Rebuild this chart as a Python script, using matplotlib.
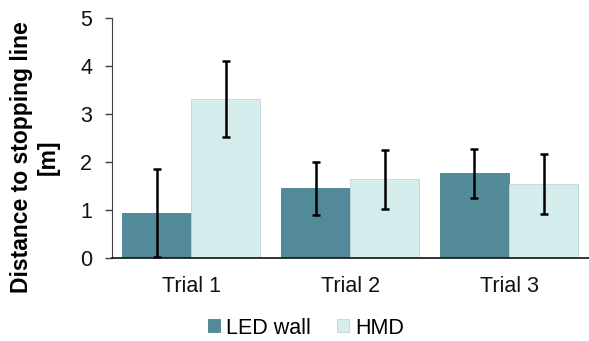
import matplotlib
matplotlib.use('Agg')
import matplotlib.pyplot as plt
import numpy as np

plt.rcParams['font.family'] = ['Liberation Sans', 'DejaVu Sans']

trials = ['Trial 1', 'Trial 2', 'Trial 3']
led_mean = [0.94, 1.46, 1.77]
led_err = [0.92, 0.55, 0.51]
hmd_mean = [3.31, 1.64, 1.54]
hmd_err = [0.79, 0.61, 0.62]
y_ticks = [0, 1, 2, 3, 4, 5]

LED_COL = '#528A9A'
HMD_COL = '#D6EDED'
FS = 15.5

fig = plt.figure(figsize=(5.89, 3.41), dpi=100)
ax = fig.add_axes([111.7 / 589, (341 - 258.3) / 341, (588.5 - 111.7) / 589, 240.3 / 341])

x = np.arange(len(trials))
w = 0.435
err_kw = dict(ecolor='black', elinewidth=1.8, capsize=2.6, capthick=1.8)
ax.bar(x - w / 2, led_mean, w, color=LED_COL, edgecolor='#4A7F8E', linewidth=0.6,
       yerr=led_err, error_kw=err_kw, label='LED wall')
ax.bar(x + w / 2, hmd_mean, w, color=HMD_COL, edgecolor='#BFD6D6', linewidth=0.6,
       yerr=hmd_err, error_kw=err_kw, label='HMD')

ax.set_xlim(-0.5, 2.5)
ax.set_ylim(0, 5)
ax.set_yticks(y_ticks)
ax.set_xticks(x)
ax.set_xticklabels(trials)
ax.tick_params(axis='x', length=0, pad=13, labelsize=FS, labelcolor='#111111')
ax.tick_params(axis='y', length=5, width=1, pad=9, labelsize=FS, colors='#404040',
               labelcolor='#111111', direction='out')
for s in ['top', 'right']:
    ax.spines[s].set_visible(False)
ax.spines['left'].set_color('#404040')
ax.spines['bottom'].set_color('#111111')
ax.spines['bottom'].set_linewidth(1.2)

ax.set_ylabel('Distance to stopping line\n[m]', fontsize=16.5, fontweight='bold',
              linespacing=1.2)
ax.yaxis.set_label_coords(-(111.7 - 60) / 476.8, 0.42)

fig.legend(loc='center', bbox_to_anchor=(0.52, 1 - 328 / 341), ncol=2, frameon=False,
           fontsize=FS, handlelength=0.55, handleheight=0.55, handletextpad=0.3,
           columnspacing=1.2, borderpad=0)

fig.savefig('out.png', dpi=100)
